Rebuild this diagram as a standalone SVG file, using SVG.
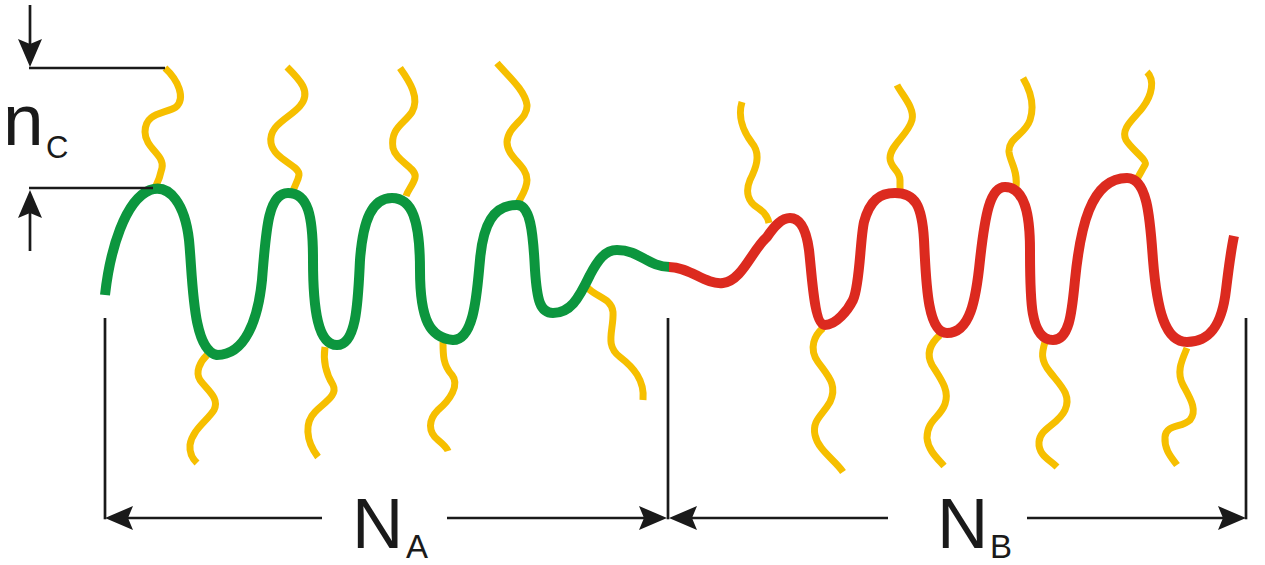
<svg xmlns="http://www.w3.org/2000/svg" width="1265" height="565" viewBox="0 0 1265 565">
  <style>
    .side { fill: none; stroke: #f6bf00; stroke-width: 7; stroke-linecap: butt; stroke-linejoin: round; }
    .blockA { fill: none; stroke: #0c963e; stroke-width: 10; stroke-linecap: butt; stroke-linejoin: round; }
    .blockB { fill: none; stroke: #dc2a1f; stroke-width: 10; stroke-linecap: butt; stroke-linejoin: round; }
    .dim { fill: none; stroke: #1a1a1a; stroke-width: 2.7; }
    .lbl { font-family: "Liberation Sans", Arial, sans-serif; fill: #1a1a1a; }
    .big { font-size: 71px; }
    .sub { font-size: 33px; }
  </style>
  <defs>
    <marker id="arrow" viewBox="0 0 28 24" refX="22" refY="12" markerWidth="28" markerHeight="24" markerUnits="userSpaceOnUse" orient="auto">
      <path d="M0,0 L28,12 L0,24 L5,12 Z" fill="#1a1a1a"/>
    </marker>
  </defs>

  <rect width="1265" height="565" fill="#ffffff"/>

  <!-- side chains of block A -->
  <g id="sidechains-A">
    <path class="side" d="M165,68 C178,80 186,98 176,107 C165,114 145,112 145,132 C145,148 165,155 162,168 C160,178 157,184 155,188"/>
    <path class="side" d="M287,67 C300,80 312,92 300,106 C290,118 268,125 271,143 C274,160 300,165 299,175 C298,182 294,186 293,192"/>
    <path class="side" d="M400,68 C410,82 420,98 412,112 C404,124 390,128 393,148 C396,162 418,168 415,178 C413,185 408,190 406,196"/>
    <path class="side" d="M497,63 C507,75 525,90 527,105 C528,120 508,125 507,142 C507,158 527,165 527,180 C527,190 520,198 517,205"/>
    <path class="side" d="M207,355 C200,362 195,372 200,380 C207,390 220,398 214,410 C208,420 192,430 190,445 C189,455 194,460 197,463"/>
    <path class="side" d="M325,347 C323,360 325,372 333,385 C338,395 325,402 315,412 C305,422 305,440 318,457"/>
    <path class="side" d="M443,342 C443,355 443,365 452,375 C460,385 450,400 438,410 C428,420 428,432 438,440 C444,445 447,448 448,451"/>
    <path class="side" d="M587,287 C595,297 612,298 613,312 C614,330 604,345 620,357 C633,367 645,380 643,400"/>
  </g>

  <!-- side chains of block B -->
  <g id="sidechains-B">
    <path class="side" d="M742,102 C738,115 742,130 752,143 C762,155 755,170 750,180 C745,192 748,202 758,208 C766,213 768,218 769,223"/>
    <path class="side" d="M897,85 C902,95 915,108 912,120 C908,135 890,145 890,158 C890,168 900,170 900,180 L900,193"/>
    <path class="side" d="M1023,78 C1030,90 1035,105 1030,120 C1025,135 1008,138 1009,152 C1010,162 1018,170 1016,187"/>
    <path class="side" d="M1147,72 C1155,80 1152,95 1143,107 C1135,118 1120,128 1126,140 C1132,150 1148,160 1145,165 C1142,170 1140,174 1137,179"/>
    <path class="side" d="M823,328 C815,335 808,348 818,362 C828,376 838,385 830,402 C822,416 812,420 815,435 C818,450 835,460 843,472"/>
    <path class="side" d="M940,335 C932,342 925,352 932,365 C940,378 950,390 945,404 C940,418 927,420 927,438 C928,450 937,458 944,466"/>
    <path class="side" d="M1045,342 C1042,352 1040,360 1050,372 C1060,385 1072,395 1065,410 C1058,425 1040,428 1039,442 C1038,455 1050,460 1057,467"/>
    <path class="side" d="M1187,348 C1182,360 1176,372 1183,385 C1190,398 1198,410 1190,420 C1182,428 1166,424 1165,437 C1164,450 1172,458 1177,465"/>
  </g>

  <!-- backbone: block A (green) and block B (red) -->
  <g id="backbone-A">
    <path class="blockA" d="M105,295 C110,250 125,200 150,190 C170,183 185,205 189,240 C193,280 192,350 217,355 C245,355 258,320 262,280 C266,230 268,193 288,193 C308,193 313,215 313,260 C313,310 318,345 337,345 C357,345 358,300 360,260 C363,220 372,198 392,198 C412,198 420,220 420,270 C420,320 430,338 453,340 C475,340 477,290 480,260 C483,225 493,205 517,205 C530,205 533,230 535,270 C537,300 540,313 553,313 C570,313 578,300 590,275 C598,260 605,250 617,250 C640,250 648,267 670,267"/>
  </g>
  <g id="backbone-B">
    <path class="blockB" d="M669,267 C690,267 705,285 723,283 C742,281 752,250 767,237 C775,225 782,218 790,218 C800,218 806,228 809,250 C812,275 814,325 825,325 C836,325 848,310 853,300 C860,285 860,240 864,222 C870,200 880,193 895,193 C915,193 922,205 924,240 C926,280 927,333 947,333 C970,333 976,300 980,260 C985,215 990,187 1005,187 C1025,187 1030,215 1030,250 C1030,300 1030,340 1053,340 C1070,340 1072,310 1075,280 C1080,230 1090,178 1127,178 C1148,178 1150,220 1153,260 C1157,310 1165,342 1187,342 C1210,342 1222,325 1226,290 C1229,265 1231,250 1234,236"/>
  </g>

  <!-- dimension lines -->
  <g id="connectors">
    <line class="dim" x1="30" y1="5" x2="30" y2="61" marker-end="url(#arrow)"/>
    <line class="dim" x1="29" y1="68" x2="165" y2="68"/>
    <line class="dim" x1="29" y1="188" x2="153" y2="188"/>
    <line class="dim" x1="30" y1="251" x2="30" y2="196" marker-end="url(#arrow)"/>

    <line class="dim" x1="105" y1="318" x2="105" y2="519.3"/>
    <line class="dim" x1="668" y1="318" x2="668" y2="519.3"/>
    <line class="dim" x1="1246" y1="318" x2="1246" y2="519.3"/>

    <line class="dim" x1="322" y1="518" x2="111" y2="518" marker-end="url(#arrow)"/>
    <line class="dim" x1="447" y1="518" x2="661" y2="518" marker-end="url(#arrow)"/>
    <line class="dim" x1="888" y1="518" x2="675" y2="518" marker-end="url(#arrow)"/>
    <line class="dim" x1="1027" y1="518" x2="1240" y2="518" marker-end="url(#arrow)"/>
  </g>

  <!-- labels -->
  <g id="label-nc">
    <text class="lbl" x="3" y="145" font-size="73">n</text>
    <text class="lbl" x="46" y="158" font-size="31">C</text>
  </g>
  <g id="label-NA">
    <text class="lbl big" x="352" y="548">N</text>
    <text class="lbl sub" x="406" y="558">A</text>
  </g>
  <g id="label-NB">
    <text class="lbl big" x="937" y="548">N</text>
    <text class="lbl sub" x="990" y="558">B</text>
  </g>
</svg>
